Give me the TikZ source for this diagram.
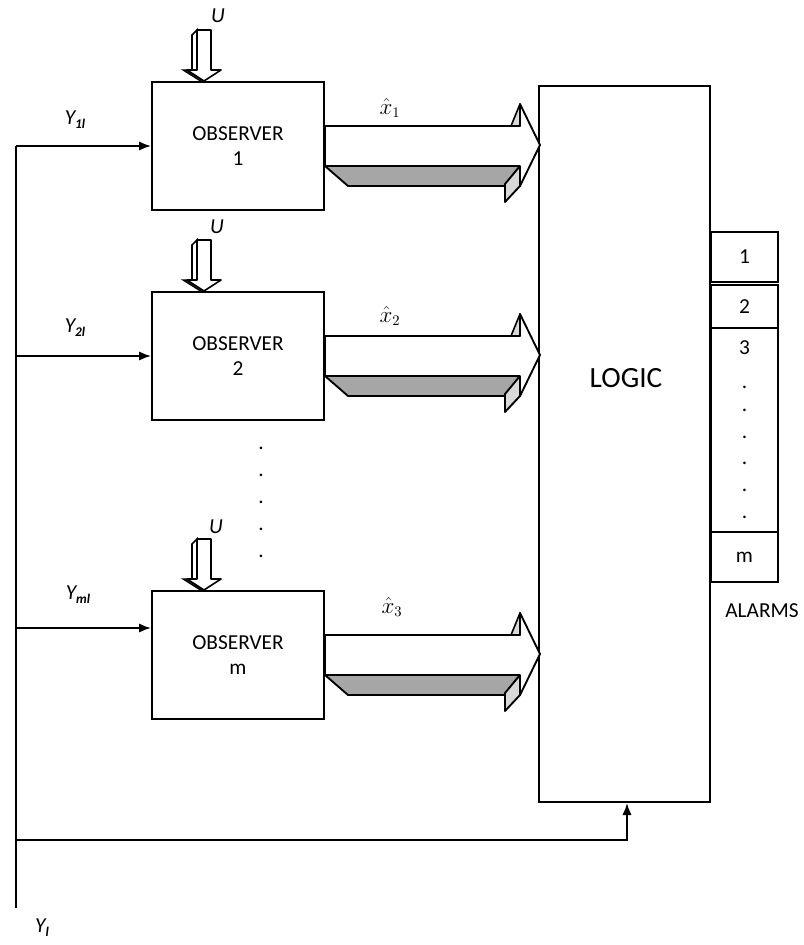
\documentclass[tikz,border=0pt]{standalone}
\usepackage{fontspec}
\setmainfont{Carlito}
\usetikzlibrary{arrows.meta,calc}
\tikzset{
  bigarrow/.pic={
    \filldraw[fill=gray!70,line width=1.4pt,line join=round] (0,20) -- (195,20) -- (179,40) -- (23,40) -- cycle;
    \filldraw[fill=gray!30,line width=1.4pt,line join=round] (195,20) -- (195,40) -- (180,56) -- (180,38) -- cycle;
    \filldraw[fill=white,line width=1.4pt,line join=round] (0,-20) -- (195,-20) -- (195,-42) -- (215,-1) -- (195,40) -- (195,20) -- (0,20) -- cycle;
    \filldraw[fill=gray!30,line width=1.2pt,line join=round] (186,-20) -- (195,-42) -- (195,-20) -- cycle;
  },
  uarrow/.pic={
    \filldraw[fill=white,line width=1.2pt] (-7,-51) -- (-12,-46) -- (-12,-11) -- (-7,-11) -- cycle;
    \filldraw[fill=black!80,line width=0.9pt] (-17,-11) -- (-21,-11) -- (-2,1) -- (0,0) -- cycle;
    \filldraw[fill=white,line width=1.2pt,line join=round] (-7,-51) -- (7,-51) -- (7,-11) -- (17,-11) -- (0,0) -- (-17,-11) -- (-7,-11) -- cycle;
  }
}
\begin{document}
\begin{tikzpicture}[x=0.75pt,y=-0.75pt,
  every node/.style={font=\fontsize{16}{19}\selectfont},
  box/.style={draw,line width=1.5pt,inner sep=0pt,fill=white},
  obsbox/.style={box,minimum width=129pt,minimum height=96pt,align=center},
  alarmbox/.style={box,minimum width=50.25pt},
  conn/.style={line width=1.4pt},
  tip/.style={-{Latex[length=9pt,width=7pt]}},
  lbl/.style={font=\fontsize{16}{16}\selectfont\itshape, inner sep=0pt},
  dotlbl/.style={inner sep=0pt,font=\fontsize{16}{16}\selectfont},
  ]
\useasboundingbox (0,0) rectangle (803,945);

% observers
\node[obsbox] (obs1) at (238,146) {OBSERVER\\1};
\node[obsbox] (obs2) at (238,356) {OBSERVER\\2};
\node[obsbox] (obsm) at (238,655) {OBSERVER\\m};

% logic
\node[box,minimum width=128.25pt,minimum height=537pt] (logic) at (624.5,444) {};
\node[font=\fontsize{22}{26}\selectfont] (logictext) at (626,378) {LOGIC};

% alarms
\node[alarmbox,minimum height=37.5pt] (al1) at (744.5,257) {1};
\node[alarmbox,minimum height=32.25pt] (al2) at (744.5,306.5) {2};
\node[alarmbox,minimum height=153pt] (al3) at (744.5,430) {};
\node[alarmbox,minimum height=37.5pt] (alm) at (744.5,557) {m};
\node (a3) at (744.5,348) {3};
\foreach \yy [count=\i] in {387,410,437,463,490,517}
  \node[dotlbl] (ad\i) at (744.5,\yy) {.};
\node (alarms) at (762,611) {ALARMS};

% dots between observers
\foreach \yy [count=\i] in {448,475,502,529,556}
  \node[dotlbl] (od\i) at (261,\yy) {.};

% U inputs
\pic at ($(obs1.north)+(-34,0)$) {uarrow};
\pic at ($(obs2.north)+(-34,0)$) {uarrow};
\pic at ($(obsm.north)+(-34,0)$) {uarrow};
\node[lbl] (u1) at ($(obs1.north)+(-20,-65)$) {U};
\node[lbl] (u2) at ($(obs2.north)+(-21,-64)$) {U};
\node[lbl] (um) at ($(obsm.north)+(-22,-63)$) {U};

% estimate arrows
\pic at (obs1.east) {bigarrow};
\pic at (obs2.east) {bigarrow};
\pic at (obsm.east) {bigarrow};
\node (xh1) at (390,108) {$\hat{x}_1$};
\node (xh2) at (390,316) {$\hat{x}_2$};
\node (xh3) at (392,607) {$\hat{x}_3$};

% measurement lines
\coordinate (j1) at (16,146);
\coordinate (j2) at (16,356);
\coordinate (jm) at (16,628);
\coordinate (jb) at (16,840);
\coordinate (yend) at (16,908);
\coordinate (fb) at (627,840);
\draw[conn] (j1) -- (yend);
\draw[conn,tip] (j1) -- (obs1.west);
\draw[conn,tip] (j2) -- (obs2.west);
\draw[conn,tip] (jm) -- (jm -| obsm.west);
\draw[conn,tip] (jb) -- (fb) -- (fb |- logic.south);

\node[lbl] (y1) at (75,120) {Y\raisebox{-3pt}{\fontsize{10}{10}\selectfont\bfseries 1l}};
\node[lbl] (y2) at (75,328) {Y\raisebox{-3pt}{\fontsize{10}{10}\selectfont\bfseries 2l}};
\node[lbl] (ym) at (78,595) {Y\raisebox{-3pt}{\fontsize{10}{10}\selectfont\bfseries ml}};
\node[lbl] (yl) at (42,928) {Y\raisebox{-3pt}{\fontsize{10}{10}\selectfont\bfseries l}};
\end{tikzpicture}
\end{document}
